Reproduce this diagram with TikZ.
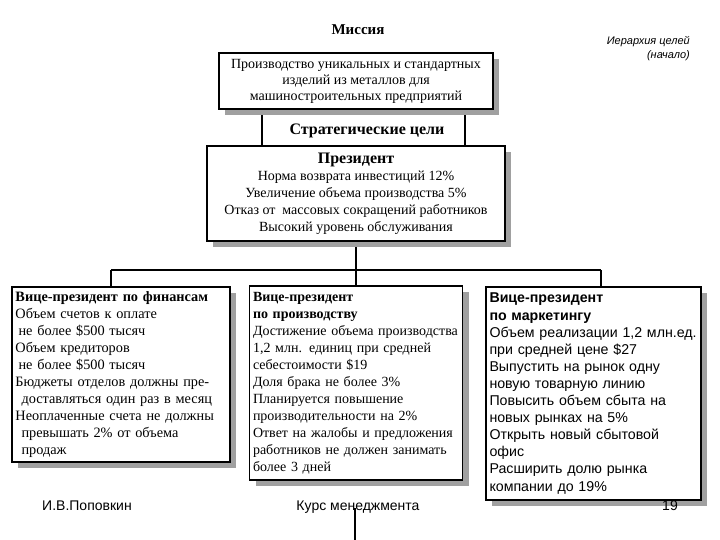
\documentclass[tikz,border=0pt]{standalone}
\usepackage{fontspec}
\setmainfont{Liberation Serif}
\newfontfamily\arialf{Liberation Sans}
\usetikzlibrary{shadows,backgrounds}
\definecolor{shadowgray}{RGB}{160,160,160}
\tikzset{
  goalbox/.style={draw=black, line width=1.2pt, fill=white, rectangle, inner sep=3pt,
    drop shadow={shadow xshift=6pt, shadow yshift=-6pt, fill=shadowgray, opacity=1}},
  serifbox/.style={font=\fontsize{14}{17}\selectfont},
  sansbox/.style={font=\arialf\fontsize{14.2}{17.1}\selectfont},
  titletext/.style={inner sep=0pt, font=\fontsize{15.5}{18}\selectfont\bfseries},
  foot/.style={inner sep=0pt, anchor=base, font=\arialf\fontsize{14}{16}\selectfont},
  link/.style={line width=1.8pt},
  bus/.style={line width=1.5pt}
}
\begin{document}
\begin{tikzpicture}[x=1pt,y=-1pt]
\useasboundingbox (0,0) rectangle (720,540);

\node[titletext, font=\fontsize{15}{18}\selectfont\bfseries] (missiontitle) at (358,30) {Миссия};
\node[goalbox, minimum width=274pt, minimum height=56pt, align=center,
  font=\fontsize{14}{16}\selectfont] (mission) at (356,81)
  {Производство уникальных и стандартных\\изделий из металлов для\\машиностроительных предприятий};

\node[anchor=east, inner sep=0pt, align=right, font=\arialf\itshape\fontsize{11}{14}\selectfont] (hier) at (690,49)
  {Иерархия целей\\(начало)};

\node[titletext, font=\fontsize{16}{18}\selectfont\bfseries] (strat) at (367,131) {Стратегические цели};

\node[goalbox, serifbox, minimum width=298pt, minimum height=95pt, align=center] (president) at (356,193.5)
  {{\fontsize{16}{18}\selectfont\bfseries Президент}\\
   Норма возврата инвестиций 12\%\\
   Увеличение объема производства 5\%\\
   Отказ от\ \ массовых сокращений работников\\
   Высокий уровень обслуживания};

\node[goalbox, font=\fontsize{14.3}{17}\selectfont, minimum width=218pt, minimum height=175pt, text width=211pt, align=left] (finance) at (121,374.5)
  {\textbf{Вице-президент по финансам}\\
   Объем счетов к оплате\\
   \hspace*{3pt}не более \$500 тысяч\\
   Объем кредиторов\\
   \hspace*{3pt}не более \$500 тысяч\\
   Бюджеты отделов должны пре-\\
   \hspace*{6pt}доставляться один раз в месяц\\
   Неоплаченные счета не должны\\
   \hspace*{6pt}превышать 2\% от объема\\
   \hspace*{6pt}продаж};

\node[goalbox, serifbox, minimum width=213pt, minimum height=194pt, text width=206pt, align=left] (production) at (356,383)
  {\textbf{Вице-президент}\\
   \textbf{по производству}\\
   Достижение объема производства\\
   1,2 млн. единиц при средней\\
   себестоимости \$19\\
   Доля брака не более 3\%\\
   Планируется повышение\\
   производительности на 2\%\\
   Ответ на жалобы и предложения\\
   работников не должен занимать\\
   более 3 дней};

\node[goalbox, sansbox, minimum width=215pt, minimum height=213pt, text width=208pt, align=left] (marketing) at (593.5,393.5)
  {\textbf{Вице-президент}\\
   \textbf{по маркетингу}\\
   Объем реализации 1,2 млн.ед.\\
   при средней цене \$27\\
   Выпустить на рынок одну\\
   новую товарную линию\\
   Повысить объем сбыта на\\
   новых рынках на 5\%\\
   Открыть новый сбытовой\\
   офис\\
   Расширить долю рынка\\
   компании до 19\%};

\node[foot] (author) at (87,510) {И.В.Поповкин};
\node[foot] (course) at (358,510) {Курс менеджмента};
\node[foot] (page) at (670,510) {19};

\coordinate (busL) at (111,270);
\coordinate (busR) at (601,270);
\coordinate (tailtop) at (355,508);
\coordinate (tailbot) at (355,540);

\begin{scope}[on background layer]
  \draw[link] ([xshift=-94pt]mission.south) -- ([xshift=-94pt]mission.south |- president.north);
  \draw[link] ([xshift=109pt]mission.south) -- ([xshift=109pt]mission.south |- president.north);
  \draw[link] (president.south) -- (production.north);
  \draw[bus] (busL) -- (busR);
  \draw[link] (busL) -- (busL |- finance.north);
  \draw[link] (busR) -- (busR |- marketing.north);
\end{scope}
\draw[link] (tailtop) -- (tailbot);
\end{tikzpicture}
\end{document}
